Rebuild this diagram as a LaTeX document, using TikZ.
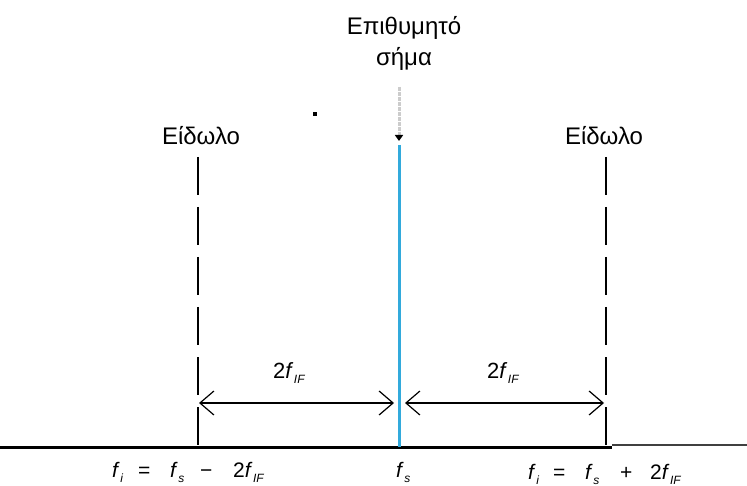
\documentclass[tikz,border=0pt]{standalone}
\usepackage{fontspec}
\setmainfont{Liberation Sans}
\usetikzlibrary{arrows.meta}
\definecolor{sigblue}{RGB}{50,170,220}
\newcommand\fsb[2]{\textit{#1}\kern0.5pt\raisebox{-5pt}{\fontsize{12}{12}\selectfont\textit{#2}}}
\newcommand\tok[2]{\makebox[#1][l]{#2}}
\tikzset{
  lbl/.style={font=\fontsize{24}{26}\selectfont, inner sep=0pt, anchor=base},
  eqlbl/.style={font=\fontsize{21}{23}\selectfont, inner sep=0pt, anchor=base west},
  dimlbl/.style={font=\fontsize{22}{24}\selectfont, inner sep=0pt, anchor=base west},
  dashv/.style={line width=2.2pt, dash pattern=on 38pt off 12pt},
  dimarrow/.style={line width=2.2pt, {Straight Barb[length=14pt,width=24pt,line width=1.2pt]}-{Straight Barb[length=14pt,width=24pt,line width=1.2pt]}},
}
\begin{document}
\begin{tikzpicture}[x=1pt,y=-1pt]
\useasboundingbox (0,0) rectangle (747,486);
% titles
\node[lbl] (want1) at (404,35) {Επιθυμητό};
\node[lbl] (want2) at (404,66) {σήμα};
\node[lbl] (imgL) at (201,145) {Είδωλο};
\node[lbl] (imgR) at (604,145) {Είδωλο};
% coordinates
\coordinate (Ltop) at (198,157);
\coordinate (Lbot) at (198,447);
\coordinate (Rtop) at (606,157);
\coordinate (Rbot) at (606,447);
\coordinate (Ctop) at (399,145);
\coordinate (Cbot) at (399,447);
\coordinate (Aa) at (0,447);
\coordinate (Ab) at (612,447);
\coordinate (Ac) at (612,445);
\coordinate (Ad) at (747,445);
\coordinate (Gtop) at (399,87);
\coordinate (Gbot) at (399,141);
\coordinate (dL) at (199,403);
\coordinate (dCl) at (394,403);
\coordinate (dCr) at (405,403);
\coordinate (dR) at (604,403);
% axis
\draw[line width=3pt] (Aa) -- (Ab);
\draw[line width=1.6pt, black!75] (Ac) -- (Ad);
% image lines
\draw[dashv] (Ltop) -- (Lbot);
\draw[dashv] (Rtop) -- (Rbot);
% desired signal
\draw[line width=3pt, sigblue] (Ctop) -- (Cbot);
\draw[line width=3pt, black!20, dash pattern=on 4pt off 1pt, -{Triangle[length=6pt,width=8pt,black]}] (Gtop) -- (Gbot);
% dim arrows
\draw[dimarrow] (dL) -- (dCl);
\draw[dimarrow] (dCr) -- (dR);
\node[dimlbl] (d1) at (273,378) {2\fsb{f}{IF}};
\node[dimlbl] (d2) at (487,378) {2\fsb{f}{IF}};
% speck
\fill (313,112) rectangle (317,116);
% bottom labels
\node[eqlbl] (bl) at (112,477) {\tok{26pt}{\fsb{f}{i}}\tok{32pt}{=}\tok{30pt}{\fsb{f}{s}}\tok{33pt}{−}2\fsb{f}{IF}};
\node[eqlbl] (bc) at (396,477) {\fsb{f}{s}};
\node[eqlbl] (br) at (528,479) {\tok{25pt}{\fsb{f}{i}}\tok{32pt}{=}\tok{35pt}{\fsb{f}{s}}\tok{30pt}{+}2\fsb{f}{IF}};
\end{tikzpicture}
\end{document}
